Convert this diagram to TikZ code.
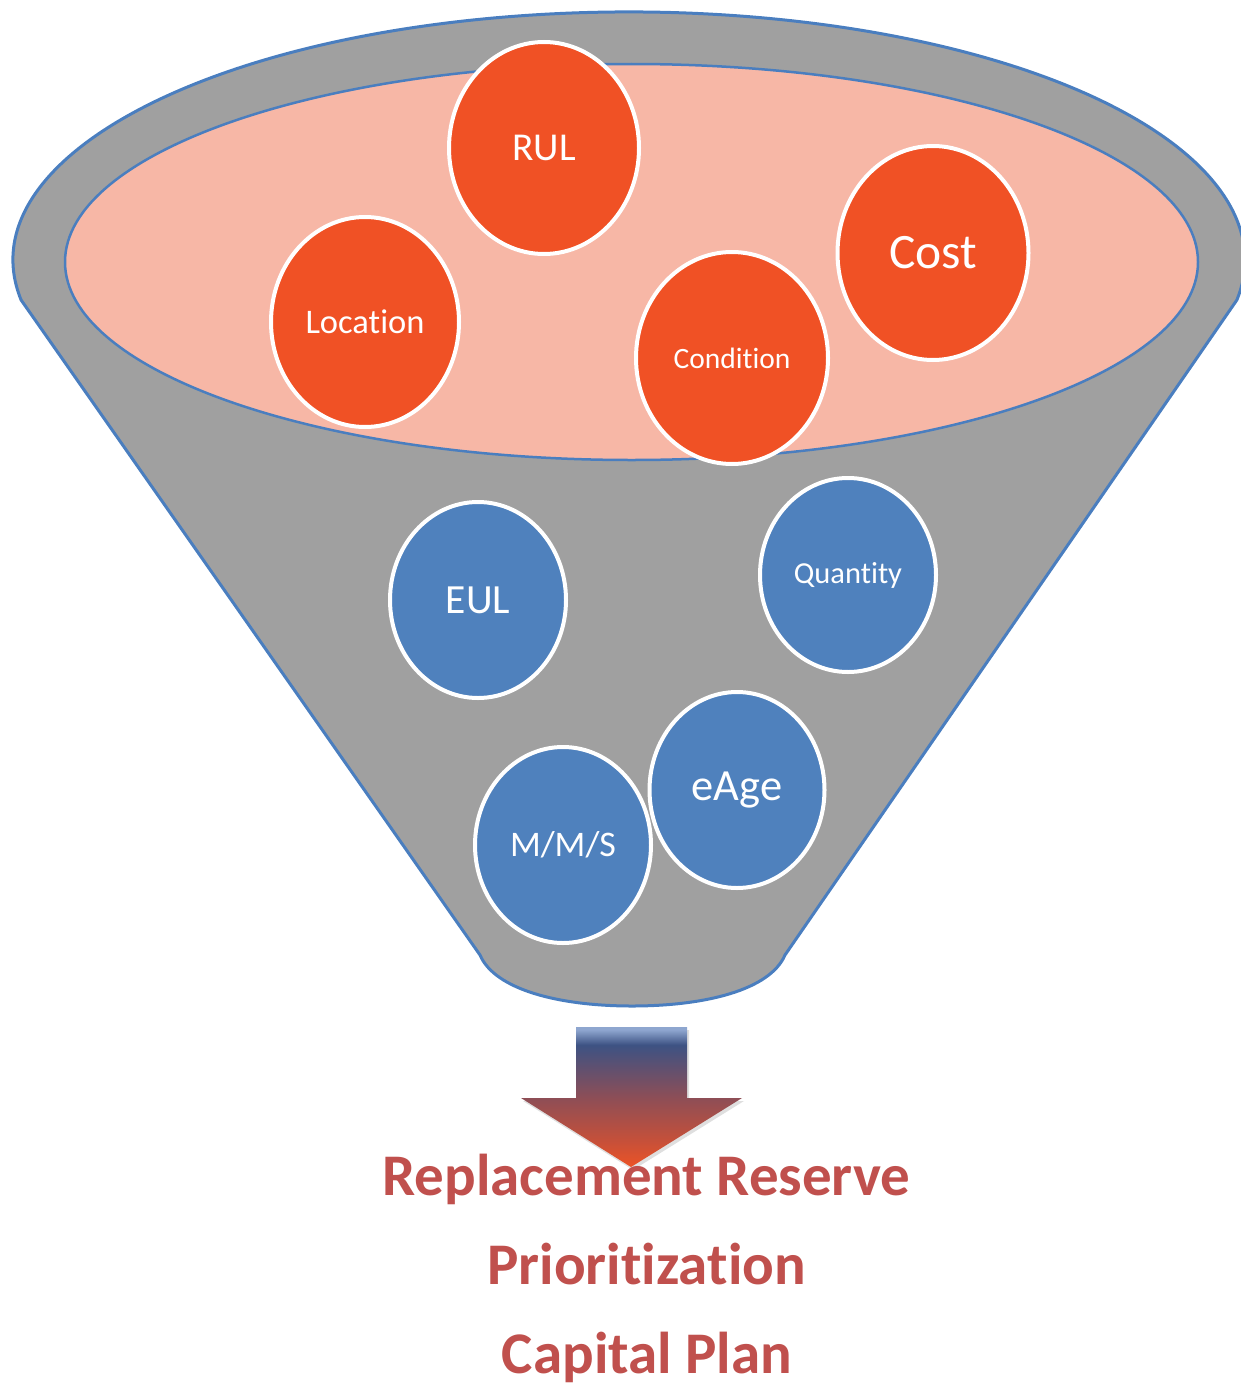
\documentclass[tikz,border=0pt]{standalone}
\usepackage{fontspec}
\setmainfont[Ligatures=NoCommon]{Carlito}
\usetikzlibrary{shapes.geometric,shadows}
\definecolor{funnelgray}{HTML}{A0A0A0}
\definecolor{bowlpink}{HTML}{F7B7A6}
\definecolor{rimblue}{HTML}{4A7EBF}
\definecolor{ballorange}{HTML}{F05125}
\definecolor{ballblue}{HTML}{4F81BD}
\definecolor{outred}{HTML}{C0504D}
\definecolor{arrowlight}{HTML}{8EA6CF}
\definecolor{arrowdark}{HTML}{3D5283}
\definecolor{arrowmid}{HTML}{8E4E56}
\definecolor{arrowlow}{HTML}{C5503A}
\definecolor{arrowbot}{HTML}{EC5326}
\pgfdeclareverticalshading{arrowshade}{100bp}{color(0bp)=(arrowbot); color(25bp)=(arrowbot); color(34.6bp)=(arrowlow); color(49.6bp)=(arrowmid); color(68.6bp)=(arrowdark); color(74bp)=(arrowlight); color(100bp)=(arrowlight)}
\tikzset{
  ball/.style={ellipse, draw=white, line width=4pt, inner sep=0pt, text=white},
  orangeball/.style={ball, fill=ballorange},
  blueball/.style={ball, fill=ballblue},
  outtext/.style={anchor=base, text=outred, font=\fontsize{59}{70}\selectfont\bfseries},
}
\newcommand{\fsz}[1]{\fontsize{#1}{#1}\selectfont}
\begin{document}
\begin{tikzpicture}[x=1pt,y=-1pt]
\useasboundingbox (0,0) rectangle (1241,1389);
% funnel body
\draw[rimblue, line width=3pt, fill=funnelgray, line join=round]
  (21.1,300) arc[start angle=170.7, end angle=369.3, x radius=616, y radius=248]
  -- (785,955) .. controls (770,990) and (705,1006) .. (632,1006)
  .. controls (560,1006) and (495,990) .. (480,955) -- cycle;
% bowl
\draw[rimblue, line width=2.5pt, fill=bowlpink] (631.5,262) ellipse[x radius=566.5, y radius=198];
% balls
\node[orangeball, minimum width=190pt, minimum height=212pt, font=\fsz{39.5}] (rul) at (544,148) {RUL};
\node[orangeball, minimum width=188pt, minimum height=210pt, font=\fsz{34.5}] (loc) at (365,322) {Location};
\node[orangeball, minimum width=191pt, minimum height=214pt, font=\fsz{49.5}] (cost) at (933,253) {Cost};
\node[orangeball, minimum width=192pt, minimum height=212pt, font=\fsz{29.5}] (cond) at (732,358) {Condition};
\node[blueball, minimum width=176pt, minimum height=196pt, font=\fsz{41.5}] (eul) at (478,600) {EUL};
\node[blueball, minimum width=176pt, minimum height=194pt, font=\fsz{30.5}] (qty) at (848,575) {Quantity};
\node[blueball, minimum width=176pt, minimum height=196pt, font=\fsz{36}] (mms) at (563,845) {M/M/S};
\node[blueball, minimum width=175pt, minimum height=196pt, font=\fsz{44.5}] (eage) at (737,790) {eAge};
% arrow
\shade[shading=arrowshade, drop shadow={opacity=0.25, shadow xshift=2pt, shadow yshift=-3pt}]
  (576,1027) -- (687,1027) -- (687,1098) -- (742,1098) -- (631,1167) -- (521,1098) -- (576,1098) -- cycle;
% output text
\node[outtext] (t1) at (646.5,1195) {Replacement Reserve};
\node[outtext] (t2) at (646.5,1284) {Prioritization};
\node[outtext] (t3) at (647,1373) {Capital Plan};
\end{tikzpicture}
\end{document}
